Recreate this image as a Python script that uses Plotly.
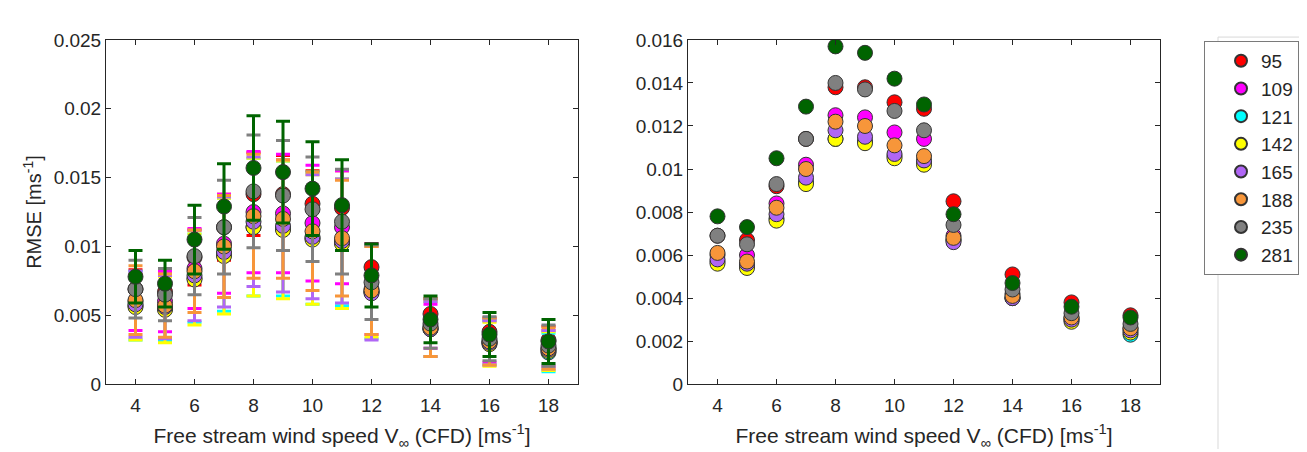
import plotly.graph_objects as go

wind_speed = [4, 5, 6, 7, 8, 9, 10, 11, 12, 14, 16, 18]

series_names = ["95", "109", "121", "142", "165", "188", "235", "281"]
series_colors = ["#FF0000", "#FF00FF", "#00FFFF", "#FFFF00", "#B066F5", "#F7963A", "#808080", "#006400"]

rmse_95 = [0.0069, 0.0067, 0.0092, 0.0114, 0.0138, 0.0138, 0.0131, 0.0128, 0.0085, 0.0051, 0.0038, 0.0032]
rmse_109 = [0.0060, 0.0060, 0.0084, 0.0102, 0.0125, 0.0124, 0.0117, 0.0114, 0.0069, 0.0042, 0.0031, 0.0026]
rmse_121 = [0.0057, 0.0055, 0.0077, 0.0094, 0.0114, 0.0113, 0.0106, 0.0103, 0.0067, 0.0040, 0.0030, 0.0023]
rmse_142 = [0.0056, 0.0054, 0.0076, 0.0093, 0.0114, 0.0112, 0.0105, 0.0102, 0.0067, 0.0040, 0.0029, 0.0024]
rmse_165 = [0.0058, 0.0056, 0.0079, 0.0096, 0.0118, 0.0115, 0.0107, 0.0104, 0.0066, 0.0040, 0.0030, 0.0025]
rmse_188 = [0.0061, 0.0057, 0.0082, 0.0100, 0.0122, 0.0120, 0.0111, 0.0106, 0.0068, 0.0041, 0.0031, 0.0026]
rmse_235 = [0.0069, 0.0065, 0.0093, 0.0114, 0.0140, 0.0137, 0.0127, 0.0118, 0.0074, 0.0044, 0.0033, 0.0028]
rmse_281 = [0.0078, 0.0073, 0.0105, 0.0129, 0.0157, 0.0154, 0.0142, 0.0130, 0.0079, 0.0047, 0.0036, 0.0031]

err_95 = [0.0014, 0.0013, 0.0020, 0.0024, 0.0030, 0.0028, 0.0024, 0.0027, 0.0017, 0.0011, 0.0010, 0.0010]
err_109 = [0.0021, 0.0022, 0.0029, 0.0036, 0.0044, 0.0043, 0.0042, 0.0041, 0.0033, 0.0016, 0.0015, 0.0013]
err_121 = [0.0025, 0.0024, 0.0032, 0.0041, 0.0050, 0.0049, 0.0048, 0.0046, 0.0034, 0.0020, 0.0016, 0.0014]
err_142 = [0.0024, 0.0024, 0.0033, 0.0042, 0.0050, 0.0050, 0.0047, 0.0047, 0.0033, 0.0020, 0.0016, 0.0014]
err_165 = [0.0024, 0.0023, 0.0033, 0.0040, 0.0047, 0.0048, 0.0045, 0.0045, 0.0034, 0.0020, 0.0016, 0.0014]
err_188 = [0.0025, 0.0023, 0.0030, 0.0037, 0.0045, 0.0043, 0.0043, 0.0042, 0.0032, 0.0021, 0.0017, 0.0015]
err_235 = [0.0021, 0.0019, 0.0028, 0.0034, 0.0041, 0.0040, 0.0038, 0.0038, 0.0027, 0.0018, 0.0016, 0.0015]
err_281 = [0.0019, 0.0017, 0.0025, 0.0031, 0.0038, 0.0037, 0.0034, 0.0033, 0.0023, 0.0017, 0.0016, 0.0016]

rmse_all = [rmse_95, rmse_109, rmse_121, rmse_142, rmse_165, rmse_188, rmse_235, rmse_281]
err_all = [err_95, err_109, err_121, err_142, err_165, err_188, err_235, err_281]

left_yticks = [0, 0.005, 0.01, 0.015, 0.02, 0.025]
left_ylabels = ["0", "0.005", "0.01", "0.015", "0.02", "0.025"]
right_yticks = [0, 0.002, 0.004, 0.006, 0.008, 0.01, 0.012, 0.014, 0.016]
right_ylabels = ["0", "0.002", "0.004", "0.006", "0.008", "0.01", "0.012", "0.014", "0.016"]
xticks = [4, 6, 8, 10, 12, 14, 16, 18]

FONT = "Liberation Sans, Arial, sans-serif"
TXT = "#262626"
W, H = 1307, 452

fig = go.Figure()

for name, color, vals, errs in zip(series_names, series_colors, rmse_all, err_all):
    fig.add_trace(go.Scatter(
        x=wind_speed, y=vals, mode="markers", name=name, showlegend=False,
        xaxis="x", yaxis="y",
        error_y=dict(type="data", array=errs, visible=True, color=color, thickness=3, width=7),
        marker=dict(size=15, color=color, line=dict(color="#333333", width=1)),
    ))

for name, color, vals in zip(series_names, series_colors, rmse_all):
    fig.add_trace(go.Scatter(
        x=wind_speed, y=vals, mode="markers", name=name, showlegend=True,
        xaxis="x2", yaxis="y2",
        marker=dict(size=15, color=color, line=dict(color="#333333", width=1)),
    ))

ydom = [1 - 384 / H, 1 - 23 / H]
xtitle = "Free stream wind speed V<sub>∞</sub> (CFD) [ms<sup>-1</sup>]"

axis_common = dict(
    showline=True, linecolor=TXT, linewidth=1, mirror="ticks",
    ticks="inside", ticklen=5, tickcolor=TXT, showgrid=False, zeroline=False,
    tickfont=dict(family=FONT, size=19, color=TXT),
)

fig.update_layout(
    width=W, height=H,
    margin=dict(l=0, r=0, t=0, b=0),
    paper_bgcolor="white", plot_bgcolor="white",
    font=dict(family=FONT, size=19, color=TXT),
    xaxis=dict(domain=[98 / W, 570 / W], range=[3, 19], tickvals=xticks, anchor="y",
               ticklabelstandoff=4,
               title=dict(text=xtitle, font=dict(family=FONT, size=21, color=TXT), standoff=13),
               **axis_common),
    yaxis=dict(domain=ydom, range=[0, 0.025], tickvals=left_yticks, ticktext=left_ylabels, anchor="x",
               title=dict(text="RMSE [ms<sup>-1</sup>]", font=dict(family=FONT, size=20, color=TXT), standoff=6),
               **axis_common),
    xaxis2=dict(domain=[680 / W, 1152 / W], range=[3, 19], tickvals=xticks, anchor="y2",
                ticklabelstandoff=4,
                title=dict(text=xtitle, font=dict(family=FONT, size=21, color=TXT), standoff=13),
                **axis_common),
    yaxis2=dict(domain=ydom, range=[0, 0.016], tickvals=right_yticks, ticktext=right_ylabels, anchor="x2",
                **axis_common),
    legend=dict(
        x=1196 / W, y=1 - 24 / H, xanchor="left", yanchor="top",
        bgcolor="white", bordercolor="#7a7a7a", borderwidth=1,
        font=dict(family=FONT, size=19, color=TXT),
        itemsizing="constant", indentation=16, tracegroupgap=0,
    ),
    shapes=[
        dict(type="line", xref="paper", yref="paper", x0=1210 / W, x1=1210 / W, y0=0, y1=1 - 20 / H,
             line=dict(color="#d9d9d9", width=1), layer="below"),
        dict(type="line", xref="paper", yref="paper", x0=1210 / W, x1=1, y0=1 - 20 / H, y1=1 - 20 / H,
             line=dict(color="#d9d9d9", width=1), layer="below"),
    ],
)

fig.write_html("out.html")
